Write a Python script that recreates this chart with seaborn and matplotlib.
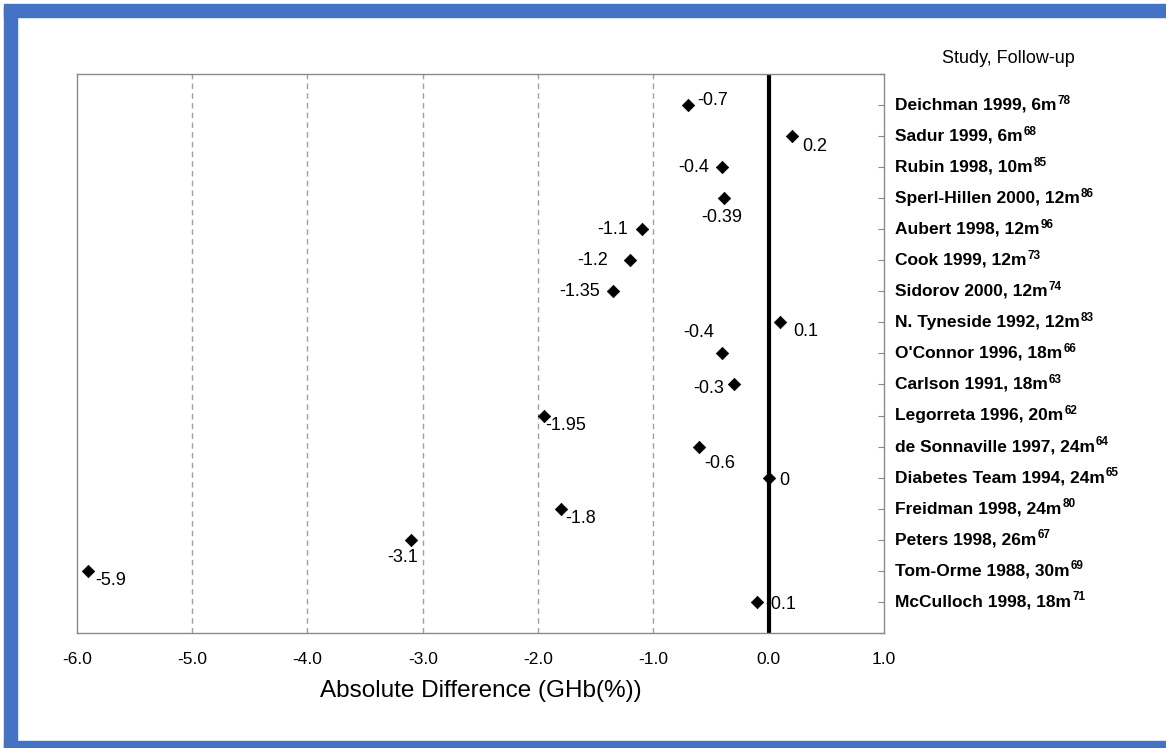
import numpy as np
import matplotlib
matplotlib.use("Agg")
import matplotlib.pyplot as plt
import seaborn as sns
from matplotlib.patches import Rectangle
from matplotlib import transforms

# ---------------------------------------------------------------
# data
# ---------------------------------------------------------------
studies = ["Deichman 1999, 6m", "Sadur 1999, 6m", "Rubin 1998, 10m",
           "Sperl-Hillen 2000, 12m", "Aubert 1998, 12m", "Cook 1999, 12m",
           "Sidorov 2000, 12m", "N. Tyneside 1992, 12m", "O'Connor 1996, 18m",
           "Carlson 1991, 18m", "Legorreta 1996, 20m", "de Sonnaville 1997, 24m",
           "Diabetes Team 1994, 24m", "Freidman 1998, 24m", "Peters 1998, 26m",
           "Tom-Orme 1988, 30m", "McCulloch 1998, 18m"]
refs = ["78", "68", "85", "86", "96", "73", "74", "83", "66",
        "63", "62", "64", "65", "80", "67", "69", "71"]
diffs = [-0.7, 0.2, -0.4, -0.39, -1.1, -1.2, -1.35, 0.1, -0.4,
         -0.3, -1.95, -0.6, 0.0, -1.8, -3.1, -5.9, -0.1]
xticks = [-6.0, -5.0, -4.0, -3.0, -2.0, -1.0, 0.0, 1.0]

# where each value label sits relative to its marker (pixels, ha)
label_pos = [(9, 5, "left"), (11, -10, "left"), (-13, 0, "right"),
             (-2, -19, "center"), (-14, 0, "right"), (-22, 0, "right"),
             (-13, 0, "right"), (13, -9, "left"), (-8, 21, "right"),
             (-10, -4, "right"), (1, -10, "left"), (5, -17, "left"),
             (11, -3, "left"), (4, -10, "left"), (7, -18, "right"),
             (7, -10, "left"), (8, -3, "left")]

rows = np.arange(1, len(studies) + 1)

sns.set_theme(style="white")
plt.rcParams["font.family"] = ["Liberation Sans", "DejaVu Sans"]
plt.rcParams["text.color"] = "black"
plt.rcParams["axes.labelcolor"] = "black"
plt.rcParams["xtick.color"] = "black"

fig = plt.figure(figsize=(11.66, 7.48), dpi=100)
ax = fig.add_axes([0.066, 0.154, 0.692, 0.747])

# 세로 점선 격자 + 0 기준선
for x in xticks[1:6]:
    ax.axvline(x, color="#a0a0a0", lw=1.0, ls=(0, (4, 3)), zorder=0)
ax.axvline(0, color="black", lw=3, zorder=1)

sns.scatterplot(x=diffs, y=rows, marker="D", s=40, color="black",
                edgecolor="black", linewidth=0.5, ax=ax, zorder=3)

for r, v, (dx, dy, ha) in zip(rows, diffs, label_pos):
    ax.annotate(f"{v:g}", xy=(v, r), xytext=(dx, dy),
                textcoords="offset pixels", ha=ha, va="center",
                fontsize=13, color="black")

ax.set_xlim(-6, 1)
ax.set_ylim(len(studies) + 1, 0)
ax.set_xticks(xticks)
ax.set_xticklabels([f"{t:.1f}" for t in xticks], fontsize=12.5)
ax.tick_params(axis="x", length=0, pad=14, labelcolor="black")
ax.set_xlabel("Absolute Difference (GHb(%))", fontsize=17.5, labelpad=9,
              color="black")

ax.yaxis.tick_right()
ax.set_yticks(np.arange(0, len(studies) + 2))
ax.set_yticklabels([])
ax.tick_params(axis="y", direction="in", length=4, width=0.8,
               color="#888888", right=True, left=False)

for s in ax.spines.values():
    s.set_color("#8a8a8a")
    s.set_linewidth(1.0)

# study labels with superscript refs
trans = transforms.blended_transform_factory(ax.transAxes, ax.transData)
for r, name, ref in zip(rows, studies, refs):
    t = ax.text(1.014, r, name, transform=trans, ha="left", va="center",
                fontsize=12.5, fontweight="bold", color="black")
    ax.annotate(ref, xy=(1, 1), xycoords=t, xytext=(1, 3),
                textcoords="offset pixels", ha="left", va="top",
                fontsize=8.5, fontweight="bold", color="black")

fig.text(0.865, 0.922, "Study, Follow-up", ha="center", va="center",
         fontsize=13, color="black")

# blue frame
blue = "#4472C4"
fig.patches.append(Rectangle((0.0034, 0.9773), 1.0, 0.0174,
                             transform=fig.transFigure, color=blue))
fig.patches.append(Rectangle((0.0034, 0.0), 0.0112, 0.99,
                             transform=fig.transFigure, color=blue))
fig.patches.append(Rectangle((0.0034, 0.0), 1.0, 0.0094,
                             transform=fig.transFigure, color=blue))

fig.savefig("out.png", dpi=100)
